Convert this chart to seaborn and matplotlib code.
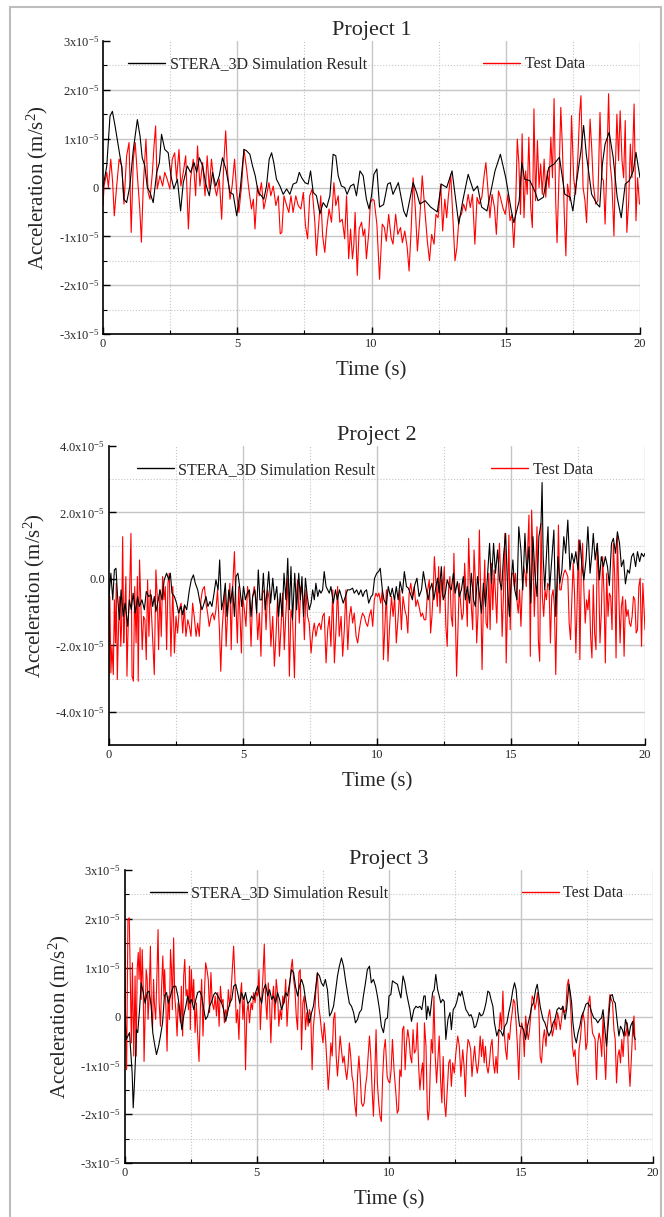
import numpy as np
import pandas as pd
import seaborn as sns
import matplotlib.pyplot as plt
from matplotlib.lines import Line2D
from matplotlib.patches import Rectangle

# (time s, acceleration in 1e-5 m/s^2)
P1_SIM = [(0.0,0.0),(0.14,0.44),(0.26,1.46),(0.35,1.56),(0.45,1.26),(0.57,0.85),(0.7,0.41),(0.78,-0.24),(0.88,-0.31),(1.0,0.03),(1.13,0.78),(1.28,1.39),(1.38,1.05),(1.46,0.61),(1.56,0.44),(1.65,0.0),(1.75,-0.1),(1.87,-0.31),(2.0,0.31),(2.1,0.51),(2.18,1.09),(2.3,0.78),(2.43,0.71),(2.53,0.24),(2.64,-0.03),(2.77,0.17),(2.89,-0.48),(2.99,0.1),(3.14,0.44),(3.26,0.31),(3.39,0.51),(3.49,0.31),(3.59,0.61),(3.71,0.44),(3.83,0.07),(3.96,-0.17),(4.08,0.31),(4.2,0.03),(4.33,0.24),(4.45,0.61),(4.58,0.37),(4.73,-0.1),(4.85,-0.14),(4.98,-0.58),(5.1,-0.1),(5.25,0.78),(5.35,0.75),(5.47,0.68),(5.57,0.44),(5.67,0.24),(5.78,-0.1),(5.9,-0.17),(5.99,-0.24),(6.09,0.03),(6.19,0.58),(6.28,0.71),(6.36,0.51),(6.46,0.17),(6.59,0.03),(6.71,-0.14),(6.84,-0.03),(6.96,-0.14),(7.08,0.07),(7.21,0.1),(7.31,0.31),(7.4,0.2),(7.52,0.1),(7.64,0.07),(7.73,0.34),(7.83,-0.1),(7.95,-0.17),(8.08,-0.54),(8.2,-0.31),(8.33,-0.41),(8.45,-0.17),(8.57,0.68),(8.67,0.65),(8.76,0.24),(8.88,0.03),(9.0,0.0),(9.09,-0.14),(9.22,0.03),(9.34,0.07),(9.44,-0.17),(9.57,0.34),(9.69,0.24),(9.81,-0.24),(9.91,-0.44),(10.0,-0.17),(10.09,0.27),(10.2,0.38),(10.3,-0.4),(10.45,-0.35),(10.6,0.07),(10.7,0.1),(10.8,-0.14),(11.0,0.1),(11.2,-0.48),(11.3,-0.6),(11.55,0.1),(11.68,-0.1),(11.8,-0.34),(12.0,-0.27),(12.2,-0.4),(12.45,-0.5),(12.6,0.07),(12.8,0.0),(13.0,0.34),(13.25,-0.75),(13.4,-0.27),(13.6,0.27),(13.8,-0.07),(13.95,0.03),(14.1,-0.4),(14.3,-0.48),(14.6,0.34),(14.8,0.68),(15.0,0.2),(15.2,-0.45),(15.3,-0.72),(15.5,-0.27),(15.6,0.51),(15.7,0.17),(15.9,0.14),(16.1,-0.1),(16.2,-0.27),(16.4,-0.2),(16.6,0.41),(16.8,0.48),(17.0,0.62),(17.2,-0.14),(17.4,-0.2),(17.5,-0.48),(17.6,-0.03),(17.8,0.75),(17.9,1.27),(18.0,0.68),(18.2,-0.14),(18.4,-0.34),(18.5,-0.4),(18.6,0.48),(18.7,0.89),(18.85,1.13),(19.0,0.62),(19.15,-0.2),(19.3,-0.62),(19.45,0.07),(19.6,0.14),(19.75,0.34),(19.85,0.72),(20.0,0.2)]

P1_TEST = [(0.0,-0.37),(0.04,0.03),(0.14,0.31),(0.2,0.0),(0.29,0.58),(0.36,0.1),(0.42,-0.58),(0.5,-0.03),(0.6,0.58),(0.7,0.44),(0.78,-0.34),(0.88,0.65),(0.97,0.92),(1.05,-0.92),(1.13,0.58),(1.2,0.92),(1.29,0.17),(1.37,-0.44),(1.43,-1.12),(1.5,0.03),(1.6,0.99),(1.68,-0.1),(1.75,-0.24),(1.84,0.31),(1.9,0.85),(1.96,1.26),(2.02,-0.03),(2.12,0.24),(2.22,0.03),(2.3,0.31),(2.39,0.17),(2.49,-0.03),(2.58,0.58),(2.67,0.71),(2.74,0.17),(2.83,0.78),(2.9,0.03),(2.99,0.31),(3.08,0.65),(3.18,-0.85),(3.26,0.17),(3.36,0.58),(3.45,-0.17),(3.52,0.85),(3.61,0.03),(3.71,0.51),(3.8,-0.17),(3.88,0.65),(3.96,-0.03),(4.04,0.58),(4.13,0.1),(4.23,-0.17),(4.33,0.17),(4.42,-0.65),(4.5,0.51),(4.57,1.16),(4.64,0.31),(4.73,-0.24),(4.81,0.03),(4.9,0.58),(4.98,-0.1),(5.06,-0.51),(5.16,0.03),(5.25,0.78),(5.35,0.37),(5.43,-0.03),(5.53,-0.44),(5.6,-0.24),(5.66,-0.85),(5.75,0.03),(5.82,-0.17),(5.9,0.1),(5.99,-0.44),(6.09,-0.17),(6.18,0.1),(6.25,-0.17),(6.34,0.03),(6.44,-0.37),(6.53,-0.17),(6.6,-0.95),(6.66,-0.92),(6.74,-0.17),(6.84,-0.37),(6.92,-0.51),(7.0,-0.17),(7.08,-0.51),(7.18,-0.17),(7.27,-0.37),(7.37,-0.44),(7.46,-0.1),(7.54,-0.78),(7.62,-1.05),(7.7,-0.17),(7.79,-0.03),(7.89,-0.71),(7.95,-1.39),(8.04,-0.71),(8.11,-0.17),(8.18,-0.99),(8.26,-1.33),(8.33,-0.85),(8.42,-0.44),(8.51,-0.71),(8.6,0.1),(8.67,-0.37),(8.76,-0.17),(8.82,-0.71),(8.91,-0.65),(9.0,-1.05),(9.07,-0.17),(9.15,-1.46),(9.22,-0.85),(9.29,-1.46),(9.34,-1.19),(9.39,-0.51),(9.47,-1.8),(9.54,-0.85),(9.63,-0.71),(9.69,-0.99),(9.75,-0.85),(9.81,-1.46),(9.9,-0.92),(9.96,-0.31),(10.04,-0.24),(10.1,-0.27),(10.2,-0.75),(10.3,-1.88),(10.4,-0.75),(10.48,-0.82),(10.55,-1.1),(10.64,-0.55),(10.73,-1.03),(10.8,-1.16),(10.9,-0.55),(10.98,-0.96),(11.08,-0.82),(11.15,-1.13),(11.24,-0.89),(11.33,-1.23),(11.4,-1.71),(11.48,-0.82),(11.55,0.2),(11.63,-0.41),(11.71,-1.3),(11.8,-0.62),(11.89,0.24),(11.98,-0.41),(12.08,-1.1),(12.16,-1.5),(12.24,-0.96),(12.33,-1.16),(12.4,-0.55),(12.48,-0.62),(12.58,0.07),(12.65,-0.89),(12.73,-0.24),(12.8,-0.62),(12.86,-0.2),(12.95,0.27),(13.04,-0.75),(13.11,-1.5),(13.18,-1.23),(13.26,-0.62),(13.35,-0.55),(13.43,-0.34),(13.51,-0.48),(13.6,-0.14),(13.68,-0.41),(13.76,-0.14),(13.85,-1.16),(13.93,-0.2),(14.01,-0.34),(14.11,-0.2),(14.2,0.27),(14.26,0.51),(14.33,0.0),(14.41,-0.62),(14.49,-0.14),(14.58,-0.41),(14.65,-0.96),(14.73,-0.07),(14.8,-0.2),(14.89,-0.41),(14.98,-0.55),(15.08,-0.14),(15.16,-0.68),(15.23,-0.55),(15.3,-1.23),(15.36,-0.55),(15.43,0.99),(15.49,0.48),(15.55,-0.55),(15.61,1.1),(15.68,-0.62),(15.74,0.34),(15.8,-0.14),(15.86,1.03),(15.93,-0.41),(15.99,-0.82),(16.05,1.61),(16.11,-0.27),(16.18,0.96),(16.24,0.0),(16.3,0.48),(16.36,-0.14),(16.43,0.58),(16.49,-0.2),(16.55,0.34),(16.61,0.0),(16.68,1.03),(16.74,0.2),(16.8,1.82),(16.86,-0.27),(16.91,-1.13),(16.99,0.34),(17.05,1.64),(17.11,0.82),(17.18,-0.55),(17.24,-1.4),(17.3,0.07),(17.39,-0.27),(17.45,1.47),(17.53,0.2),(17.6,-0.14),(17.68,0.55),(17.75,1.5),(17.8,1.88),(17.88,0.0),(17.95,-0.27),(18.01,-0.72),(18.08,0.41),(18.14,1.4),(18.2,0.82),(18.26,0.07),(18.35,-0.34),(18.43,-0.27),(18.51,1.54),(18.58,0.2),(18.64,0.14),(18.7,-0.75),(18.76,0.34),(18.83,1.92),(18.89,0.48),(18.95,0.14),(19.03,-0.99),(19.08,0.34),(19.14,1.5),(19.2,0.55),(19.26,1.57),(19.33,0.55),(19.39,0.2),(19.45,1.37),(19.51,-0.92),(19.58,-0.27),(19.64,0.89),(19.7,0.2),(19.78,1.71),(19.85,-0.68),(19.91,0.2),(19.98,-0.34)]

P2_SIM = [(0.0,-0.53),(0.07,0.17),(0.14,-0.63),(0.2,0.27),(0.26,0.32),(0.32,-0.53),(0.39,-1.23),(0.45,-0.33),(0.53,-1.13),(0.6,-0.73),(0.7,-1.43),(0.76,-0.63),(0.83,-0.93),(0.9,-0.43),(0.98,-1.03),(1.07,-0.53),(1.13,-0.83),(1.23,-0.63),(1.32,-0.93),(1.39,-0.38),(1.48,-0.53),(1.57,-0.48),(1.63,-0.83),(1.69,-0.53),(1.75,-0.98),(1.84,-0.63),(1.9,-0.33),(1.98,-0.63),(2.06,-0.03),(2.15,0.17),(2.23,-0.03),(2.29,0.17),(2.35,-0.43),(2.44,-0.53),(2.52,-0.73),(2.6,-1.03),(2.69,-0.83),(2.75,-1.08),(2.82,-0.78),(2.9,-0.93),(3.0,-0.33),(3.07,-0.03),(3.15,0.12),(3.22,-0.13),(3.31,-0.33),(3.4,-0.73),(3.47,-0.93),(3.53,-0.78),(3.62,-0.53),(3.69,-0.83),(3.77,-0.68),(3.84,-0.83),(3.92,-0.43),(3.99,-0.03),(4.07,-0.33),(4.13,0.57),(4.2,-0.93),(4.27,-0.63),(4.34,-0.13),(4.4,-1.13),(4.47,-0.33),(4.54,-0.73),(4.61,-0.23),(4.68,-1.13),(4.74,0.07),(4.81,0.17),(4.89,-0.33),(4.95,-0.83),(5.02,-0.23),(5.09,-0.63),(5.16,-0.43),(5.24,-0.33),(5.3,-1.13),(5.36,-0.53),(5.44,-0.33),(5.51,-1.03),(5.57,0.27),(5.63,-0.63),(5.7,-0.63),(5.76,0.17),(5.83,-0.93),(5.9,-0.33),(5.96,0.22),(6.03,-0.73),(6.11,0.02),(6.18,-0.63),(6.26,-0.23),(6.33,-1.13),(6.39,-0.43),(6.46,-1.13),(6.53,0.17),(6.6,-0.63),(6.67,0.62),(6.73,-0.93),(6.79,0.37),(6.85,-1.23),(6.93,0.17),(7.0,-0.93),(7.08,0.17),(7.14,-0.63),(7.2,0.07),(7.26,-1.13),(7.33,0.02),(7.4,-0.53),(7.47,-0.93),(7.54,-0.73),(7.6,-0.33),(7.66,-0.63),(7.72,-0.13),(7.79,-0.53),(7.85,-0.33),(7.91,-0.43),(7.97,-0.33),(8.03,0.22),(8.1,-0.23),(8.16,-0.33),(8.22,-0.43),(8.28,-0.23),(8.37,-0.73),(8.45,-0.33),(8.52,-0.63),(8.6,-0.33),(8.67,-0.53),(8.74,-0.73),(8.82,-0.53),(8.9,-0.33),(8.99,-0.33),(9.09,-0.28),(9.15,-0.43),(9.24,-0.33),(9.32,-0.48),(9.4,-0.33),(9.47,-0.53),(9.54,-0.38),(9.61,-0.33),(9.69,-0.73),(9.78,-0.53),(9.84,-0.48),(9.91,0.02),(9.99,0.17),(10.06,0.22),(10.12,0.32),(10.2,-0.33),(10.26,-0.63),(10.35,-0.78),(10.42,-0.23),(10.5,-0.53),(10.57,-0.28),(10.65,-0.63),(10.72,-0.23),(10.79,-0.63),(10.86,-0.08),(10.95,-0.43),(11.02,0.22),(11.1,-0.23),(11.17,-0.28),(11.24,-0.43),(11.32,-0.63),(11.41,-0.18),(11.49,0.02),(11.57,-0.53),(11.66,-0.33),(11.73,0.22),(11.82,-0.23),(11.91,-0.63),(11.97,-0.33),(12.05,-0.13),(12.12,-0.63),(12.2,-0.23),(12.26,0.02),(12.32,-0.43),(12.4,0.37),(12.47,-0.63),(12.55,-0.43),(12.62,-0.03),(12.7,-0.23),(12.77,-0.33),(12.85,0.17),(12.92,-0.43),(13.0,-0.08),(13.07,-0.53),(13.15,-0.33),(13.22,0.07),(13.3,-0.63),(13.37,-0.23),(13.45,-0.73),(13.52,0.17),(13.6,-0.63),(13.67,-0.83),(13.75,0.07),(13.82,-0.43),(13.9,-1.03),(13.97,-0.13),(14.05,-0.83),(14.12,0.07),(14.2,1.07),(14.27,-0.13),(14.35,1.07),(14.42,0.17),(14.5,0.87),(14.57,-0.03),(14.65,-0.33),(14.72,0.67),(14.8,1.37),(14.87,-0.23),(14.94,-1.13),(15.01,-0.03),(15.07,0.57),(15.14,-0.33),(15.22,-0.63),(15.29,1.57),(15.37,0.87),(15.44,-0.33),(15.52,1.37),(15.59,0.17),(15.67,0.97),(15.74,-0.73),(15.82,1.27),(15.89,0.17),(15.97,-0.53),(16.04,1.27),(16.12,1.67),(16.16,2.9),(16.2,0.67),(16.26,-0.33),(16.32,0.67),(16.38,1.57),(16.44,-0.33),(16.52,0.57),(16.6,1.47),(16.67,-1.13),(16.75,0.67),(16.82,-0.13),(16.9,0.27),(16.97,1.27),(17.04,0.77),(17.12,1.77),(17.2,0.27),(17.27,0.77),(17.35,0.47),(17.42,0.82),(17.5,0.27),(17.57,1.17),(17.65,0.37),(17.72,-0.03),(17.8,0.57),(17.87,1.57),(17.95,0.17),(18.02,0.77),(18.07,1.37),(18.14,0.57),(18.22,1.07),(18.3,-0.03),(18.37,0.67),(18.45,0.37),(18.52,0.67),(18.6,0.37),(18.67,-0.2),(18.75,1.07),(18.82,1.22),(18.9,0.77),(18.97,1.42),(19.05,1.07),(19.12,0.37),(19.2,0.57),(19.27,-0.15),(19.35,0.27),(19.42,0.17),(19.5,0.67),(19.57,0.77),(19.65,0.37),(19.72,0.82),(19.8,0.52),(19.87,0.77),(19.95,0.67),(20.0,0.77)]

P2_TEST = [(0.0,-2.93),(0.03,-0.53),(0.07,-2.83),(0.11,-2.03),(0.16,-2.88),(0.2,-0.63),(0.24,-1.93),(0.27,-0.13),(0.31,-3.03),(0.36,-1.33),(0.4,-0.53),(0.44,-2.03),(0.47,-1.43),(0.51,1.27),(0.55,-1.93),(0.58,-1.13),(0.63,0.07),(0.67,-2.93),(0.72,-1.23),(0.77,-0.33),(0.82,1.37),(0.86,-2.93),(0.91,-3.08),(0.96,-0.23),(1.01,-1.93),(1.06,0.07),(1.09,-3.08),(1.14,0.57),(1.19,-0.73),(1.24,-2.13),(1.29,-1.13),(1.34,-1.23),(1.39,-2.43),(1.44,-0.03),(1.49,-1.73),(1.54,-0.33),(1.59,-1.13),(1.64,-2.03),(1.69,-2.88),(1.75,0.27),(1.8,-0.53),(1.85,-2.13),(1.9,-0.33),(1.95,-1.73),(2.0,0.07),(2.05,-0.63),(2.1,-0.23),(2.15,-2.13),(2.2,-0.13),(2.25,0.17),(2.31,-2.33),(2.38,-0.23),(2.44,-2.23),(2.5,-1.13),(2.56,-1.63),(2.62,-0.93),(2.69,-0.73),(2.75,-1.63),(2.81,-0.83),(2.87,-1.73),(2.94,-1.23),(3.0,-1.43),(3.06,-1.73),(3.12,-0.73),(3.18,-1.13),(3.25,-1.73),(3.31,-1.33),(3.37,-1.73),(3.43,-0.63),(3.49,-0.33),(3.56,-0.23),(3.62,-0.73),(3.68,-1.03),(3.74,-1.43),(3.81,-1.13),(3.87,-1.03),(3.93,-1.23),(3.99,-0.93),(4.05,-0.33),(4.12,-1.53),(4.17,-2.78),(4.22,-1.53),(4.27,-0.93),(4.32,-0.33),(4.37,-2.03),(4.42,-1.13),(4.47,-0.63),(4.51,-0.13),(4.56,-2.13),(4.61,-0.33),(4.68,0.82),(4.74,-0.83),(4.79,-1.93),(4.84,-0.23),(4.89,-1.13),(4.94,-2.23),(4.99,-0.53),(5.05,-0.93),(5.11,-1.43),(5.17,-0.23),(5.24,-0.63),(5.3,-2.03),(5.36,-0.53),(5.42,-0.23),(5.49,-0.63),(5.55,-1.83),(5.61,-1.03),(5.67,-2.33),(5.73,-0.43),(5.8,-0.33),(5.86,-1.53),(5.92,-0.33),(5.98,-0.63),(6.04,-2.03),(6.11,-1.13),(6.17,-2.63),(6.23,-1.73),(6.29,-0.53),(6.36,-2.33),(6.42,-1.43),(6.48,-0.43),(6.54,-2.13),(6.6,-1.03),(6.67,0.02),(6.73,-2.93),(6.79,-0.93),(6.85,-1.23),(6.92,-2.98),(6.98,-0.63),(7.04,-0.03),(7.1,-1.33),(7.16,-0.23),(7.23,-0.53),(7.29,-1.83),(7.35,-0.33),(7.41,-1.13),(7.47,-1.33),(7.54,-2.23),(7.6,-1.63),(7.66,-1.33),(7.72,-1.73),(7.79,-1.43),(7.85,-1.33),(7.91,-1.53),(7.97,-1.13),(8.03,-1.03),(8.1,-2.53),(8.16,-1.53),(8.22,-1.13),(8.28,-2.03),(8.35,-0.33),(8.41,-2.53),(8.47,-1.53),(8.53,-0.23),(8.59,-1.73),(8.66,-1.13),(8.72,-2.33),(8.78,-1.53),(8.84,-0.33),(8.91,-2.13),(8.97,-1.13),(9.03,-0.83),(9.09,-1.33),(9.15,-1.03),(9.22,-1.73),(9.28,-1.93),(9.34,-1.53),(9.4,-1.23),(9.46,-1.03),(9.53,-1.13),(9.59,-1.33),(9.65,-1.43),(9.71,-1.13),(9.78,-0.93),(9.84,-1.43),(9.9,-0.63),(9.96,-0.43),(10.02,-0.53),(10.07,-0.43),(10.14,-0.73),(10.2,-0.33),(10.24,-2.43),(10.29,-1.53),(10.35,-0.33),(10.41,-2.48),(10.47,-1.43),(10.54,-0.53),(10.6,-1.13),(10.66,-0.53),(10.72,-1.93),(10.79,-1.13),(10.85,-0.33),(10.91,-1.53),(10.97,-0.53),(11.04,-0.93),(11.1,-1.13),(11.15,-1.63),(11.2,-0.43),(11.26,-0.13),(11.32,-0.53),(11.39,-0.23),(11.45,-0.83),(11.51,-0.63),(11.57,-0.83),(11.64,-1.13),(11.7,-1.03),(11.76,-1.23),(11.82,-1.23),(11.89,-0.33),(11.95,-0.03),(12.0,-1.63),(12.05,-1.13),(12.1,-0.33),(12.14,0.67),(12.2,-0.13),(12.25,-0.83),(12.3,0.37),(12.35,-1.03),(12.4,-0.03),(12.45,-0.53),(12.51,0.37),(12.57,-1.43),(12.62,-2.03),(12.67,-0.33),(12.72,0.07),(12.77,-1.13),(12.82,-1.43),(12.87,0.77),(12.92,-0.93),(12.97,-2.93),(13.02,-1.53),(13.07,-0.13),(13.12,-0.73),(13.17,-1.23),(13.22,-1.03),(13.27,0.47),(13.32,-0.43),(13.37,-1.43),(13.42,1.22),(13.47,-0.03),(13.52,-0.83),(13.57,-1.53),(13.62,0.87),(13.67,-0.03),(13.72,-1.93),(13.77,-1.03),(13.82,1.47),(13.87,-0.43),(13.92,-2.73),(13.97,-0.73),(14.02,0.57),(14.07,-1.33),(14.12,-1.48),(14.17,0.17),(14.22,-1.53),(14.27,0.47),(14.32,-0.93),(14.37,0.27),(14.42,-0.43),(14.47,-1.33),(14.52,0.17),(14.57,1.07),(14.62,-0.03),(14.67,-1.73),(14.72,-0.43),(14.77,1.37),(14.82,-2.53),(14.87,-0.83),(14.92,1.32),(14.97,-1.53),(15.02,0.17),(15.07,0.17),(15.12,-0.23),(15.17,0.17),(15.22,-0.63),(15.27,-1.03),(15.32,-0.33),(15.37,-1.43),(15.42,-0.33),(15.47,0.37),(15.52,0.17),(15.57,-0.23),(15.62,0.87),(15.67,1.92),(15.72,-2.33),(15.77,2.07),(15.82,0.67),(15.87,-1.13),(15.92,0.27),(15.97,1.57),(16.02,-1.83),(16.07,-2.48),(16.12,1.67),(16.17,-0.53),(16.22,-1.13),(16.27,-0.33),(16.32,-0.63),(16.37,-0.13),(16.42,-0.23),(16.47,-1.93),(16.52,-0.53),(16.57,-0.33),(16.62,-0.83),(16.67,-2.88),(16.72,-0.63),(16.77,1.62),(16.82,-0.33),(16.87,-0.33),(16.92,-0.03),(16.97,0.17),(17.02,0.27),(17.07,0.17),(17.12,0.07),(17.17,-1.33),(17.22,-1.83),(17.27,-0.63),(17.32,0.47),(17.37,-0.43),(17.42,-2.23),(17.47,-0.63),(17.52,1.17),(17.57,-2.43),(17.62,0.17),(17.67,1.07),(17.72,-0.33),(17.77,-1.33),(17.82,-0.63),(17.87,-0.93),(17.92,-0.33),(17.97,-1.73),(18.02,-2.38),(18.07,-0.18),(18.12,-1.63),(18.17,-2.13),(18.22,1.07),(18.27,0.07),(18.32,-1.93),(18.37,-1.03),(18.42,0.67),(18.47,-0.43),(18.52,-2.53),(18.57,0.17),(18.62,-1.13),(18.67,-0.43),(18.72,-0.53),(18.77,-1.53),(18.82,1.07),(18.87,0.07),(18.92,-2.38),(18.97,1.27),(19.02,-0.33),(19.07,-1.93),(19.12,-0.83),(19.17,-0.53),(19.22,-2.33),(19.27,-0.63),(19.32,-1.13),(19.37,-0.93),(19.42,-1.33),(19.47,-1.43),(19.52,-1.13),(19.57,-0.53),(19.62,-0.63),(19.67,-1.63),(19.72,-1.53),(19.77,-0.23),(19.82,0.02),(19.87,-2.03),(19.92,-0.13),(19.97,-1.03),(20.0,-1.53)]

P3_SIM = [(0.0,0.14),(0.06,-0.47),(0.13,-0.4),(0.19,-0.33),(0.25,-0.81),(0.29,-1.16),(0.33,-1.87),(0.37,-1.43),(0.42,-0.81),(0.45,-0.27),(0.5,-0.33),(0.57,0.14),(0.63,0.69),(0.71,0.49),(0.78,0.27),(0.86,0.49),(0.93,0.52),(1.01,0.21),(1.07,-0.33),(1.13,-0.54),(1.21,-0.78),(1.29,-0.61),(1.36,-0.4),(1.44,-0.13),(1.51,0.42),(1.59,0.49),(1.66,0.27),(1.74,0.42),(1.8,0.55),(1.86,0.62),(1.94,0.62),(2.02,0.42),(2.09,0.14),(2.17,-0.27),(2.24,0.01),(2.32,0.21),(2.39,0.42),(2.47,0.27),(2.54,0.35),(2.62,0.14),(2.7,0.35),(2.77,0.49),(2.85,0.52),(2.92,0.42),(3.0,0.14),(3.07,-0.06),(3.15,0.01),(3.22,0.21),(3.3,0.31),(3.38,0.45),(3.45,0.49),(3.53,0.42),(3.6,0.35),(3.68,0.27),(3.75,0.14),(3.83,-0.1),(3.9,0.08),(3.98,0.27),(4.06,0.35),(4.13,0.62),(4.21,0.66),(4.28,0.49),(4.36,0.27),(4.43,0.49),(4.51,0.35),(4.58,0.49),(4.66,0.27),(4.74,0.31),(4.81,0.42),(4.89,0.35),(4.96,0.49),(5.04,0.62),(5.11,0.42),(5.19,0.27),(5.26,0.55),(5.34,0.66),(5.42,0.42),(5.49,0.55),(5.57,0.35),(5.64,0.42),(5.72,0.27),(5.79,0.49),(5.87,0.35),(5.94,0.14),(6.02,0.27),(6.1,0.49),(6.17,0.42),(6.25,0.69),(6.32,0.96),(6.4,0.9),(6.47,0.62),(6.55,0.42),(6.62,0.62),(6.7,0.76),(6.78,0.62),(6.85,0.35),(6.93,0.08),(7.0,-0.13),(7.08,0.08),(7.15,0.21),(7.23,0.55),(7.3,0.89),(7.38,0.83),(7.45,0.69),(7.53,0.62),(7.6,0.76),(7.68,0.55),(7.76,0.01),(7.83,0.08),(7.91,0.21),(7.98,0.49),(8.06,0.83),(8.13,1.03),(8.21,1.2),(8.29,1.03),(8.36,0.76),(8.44,0.49),(8.51,0.27),(8.59,0.21),(8.67,0.08),(8.74,-0.13),(8.82,-0.06),(8.89,0.08),(8.97,0.14),(9.04,0.42),(9.12,0.69),(9.19,0.96),(9.27,1.03),(9.34,0.69),(9.42,0.76),(9.5,0.62),(9.57,0.42),(9.65,0.14),(9.72,-0.2),(9.8,-0.33),(9.87,-0.06),(9.95,-0.03),(10.01,0.42),(10.08,0.45),(10.14,0.73),(10.24,0.69),(10.33,0.66),(10.39,0.52),(10.46,0.38),(10.54,0.83),(10.61,0.69),(10.67,0.49),(10.72,0.35),(10.8,0.14),(10.86,-0.1),(10.95,0.14),(11.03,0.21),(11.1,0.18),(11.18,0.21),(11.25,0.14),(11.33,0.42),(11.38,0.42),(11.43,-0.06),(11.48,0.21),(11.56,0.01),(11.66,0.49),(11.72,0.55),(11.78,0.86),(11.85,0.55),(11.91,0.42),(11.97,0.28),(12.04,0.35),(12.1,0.31),(12.16,-0.47),(12.24,-0.06),(12.32,0.08),(12.37,-0.27),(12.44,0.14),(12.52,0.21),(12.58,0.31),(12.65,0.49),(12.71,0.42),(12.77,0.52),(12.85,0.31),(12.92,0.14),(12.99,0.08),(13.05,0.01),(13.11,0.04),(13.18,-0.06),(13.24,-0.23),(13.3,-0.2),(13.37,-0.06),(13.43,0.08),(13.49,0.01),(13.56,0.04),(13.62,0.14),(13.68,0.28),(13.75,0.52),(13.81,0.49),(13.87,0.35),(13.94,0.21),(14.0,-0.13),(14.09,-0.4),(14.16,-0.27),(14.24,-0.3),(14.32,-0.4),(14.39,-0.2),(14.47,-0.13),(14.54,0.08),(14.62,0.28),(14.7,0.55),(14.76,0.69),(14.82,0.55),(14.89,0.08),(14.95,-0.2),(15.03,-0.2),(15.1,-0.27),(15.18,-0.47),(15.25,-0.2),(15.34,0.01),(15.41,0.21),(15.48,0.28),(15.56,0.55),(15.62,0.66),(15.68,0.42),(15.73,0.21),(15.78,0.08),(15.84,-0.06),(15.91,-0.13),(15.99,-0.27),(16.06,-0.4),(16.14,-0.3),(16.22,-0.13),(16.29,-0.06),(16.37,0.14),(16.44,0.18),(16.52,0.14),(16.59,0.21),(16.67,-0.06),(16.73,0.14),(16.82,0.66),(16.87,0.49),(16.92,0.28),(16.97,-0.13),(17.03,-0.4),(17.1,-0.54),(17.16,-0.34),(17.23,-0.2),(17.3,0.01),(17.38,0.11),(17.46,0.25),(17.53,0.28),(17.61,0.21),(17.68,0.08),(17.76,-0.03),(17.84,-0.06),(17.91,-0.13),(17.99,-0.06),(18.05,-0.03),(18.11,0.14),(18.18,-0.27),(18.24,-0.61),(18.32,-0.06),(18.39,0.42),(18.46,0.45),(18.52,0.31),(18.57,0.28),(18.65,-0.13),(18.71,-0.4),(18.77,-0.2),(18.84,-0.27),(18.9,-0.4),(18.96,-0.06),(19.03,-0.2),(19.09,-0.4),(19.15,-0.2),(19.23,-0.1),(19.28,-0.4),(19.33,-0.47)]

P3_TEST = [(0.0,1.82),(0.04,0.01),(0.08,-1.09),(0.13,1.99),(0.18,2.02),(0.23,0.42),(0.26,-0.54),(0.3,1.1),(0.35,-0.81),(0.4,0.83),(0.44,-0.81),(0.48,0.96),(0.52,1.31),(0.55,0.76),(0.59,1.41),(0.63,0.35),(0.67,1.37),(0.71,0.55),(0.74,-0.92),(0.78,0.01),(0.82,0.96),(0.86,0.76),(0.89,-0.06),(0.93,0.35),(0.98,1.44),(1.02,0.14),(1.06,-0.27),(1.1,0.76),(1.13,0.28),(1.18,-0.06),(1.23,0.9),(1.27,1.78),(1.31,0.28),(1.36,-0.2),(1.4,0.55),(1.45,1.24),(1.49,0.42),(1.52,0.96),(1.57,0.14),(1.61,-0.71),(1.65,0.42),(1.7,-0.06),(1.74,1.37),(1.78,0.96),(1.81,0.14),(1.86,1.61),(1.9,0.42),(1.94,0.14),(1.99,-0.4),(2.03,0.28),(2.07,0.08),(2.12,-0.13),(2.15,0.62),(2.2,-0.4),(2.24,0.83),(2.28,1.17),(2.33,0.42),(2.37,0.55),(2.42,0.14),(2.46,1.03),(2.49,-0.27),(2.53,0.96),(2.58,0.28),(2.62,0.76),(2.67,-0.33),(2.72,0.28),(2.77,-0.4),(2.82,-0.92),(2.87,0.14),(2.92,0.76),(2.97,-0.4),(3.02,0.42),(3.07,1.1),(3.12,0.96),(3.17,0.76),(3.22,0.08),(3.27,0.9),(3.32,0.28),(3.38,0.14),(3.43,0.42),(3.48,0.01),(3.53,0.49),(3.58,-0.2),(3.63,0.62),(3.68,0.28),(3.73,0.35),(3.78,-0.13),(3.83,0.14),(3.88,0.01),(3.93,0.55),(3.98,0.21),(4.03,0.49),(4.08,0.96),(4.13,1.44),(4.18,0.76),(4.23,-0.13),(4.28,0.14),(4.33,-0.47),(4.38,0.42),(4.43,0.69),(4.48,-0.06),(4.53,0.42),(4.58,-1.09),(4.63,0.08),(4.68,0.28),(4.73,-0.13),(4.79,0.28),(4.84,0.14),(4.89,0.49),(4.94,0.28),(4.99,0.49),(5.04,0.42),(5.09,0.96),(5.14,-0.27),(5.19,0.35),(5.24,0.83),(5.29,1.48),(5.34,0.35),(5.39,-0.06),(5.44,0.69),(5.49,0.28),(5.54,-0.54),(5.59,0.35),(5.64,0.62),(5.69,-0.06),(5.74,0.76),(5.79,0.49),(5.84,-0.2),(5.89,0.14),(5.94,-0.06),(5.99,0.42),(6.05,0.28),(6.1,0.76),(6.15,-0.2),(6.2,0.28),(6.25,0.62),(6.3,0.96),(6.35,1.17),(6.4,0.76),(6.45,0.55),(6.5,0.01),(6.55,-0.27),(6.6,0.9),(6.65,0.96),(6.7,-0.68),(6.75,0.28),(6.8,0.42),(6.85,-0.27),(6.9,0.08),(6.95,-0.2),(7.0,0.14),(7.05,0.01),(7.1,-1.09),(7.15,-0.2),(7.2,0.08),(7.25,0.62),(7.3,0.9),(7.35,0.21),(7.4,0.01),(7.45,-0.27),(7.51,-0.54),(7.56,-0.13),(7.61,-0.47),(7.66,-0.95),(7.71,-1.5),(7.76,-1.09),(7.81,-0.54),(7.86,-0.81),(7.91,-0.06),(7.96,0.08),(8.01,-0.81),(8.06,-1.22),(8.11,-0.81),(8.16,-0.4),(8.21,-0.68),(8.26,-0.95),(8.31,-0.81),(8.36,-1.09),(8.41,-1.29),(8.46,-1.02),(8.51,-0.54),(8.56,-0.81),(8.61,-1.22),(8.66,-1.36),(8.71,-1.77),(8.77,-2.04),(8.82,-1.22),(8.87,-0.81),(8.92,-1.22),(8.97,-1.77),(9.02,-1.84),(9.07,-1.77),(9.12,-1.43),(9.17,-1.22),(9.22,-0.81),(9.27,-0.4),(9.32,-0.81),(9.37,-1.5),(9.42,-2.04),(9.47,-1.22),(9.52,-0.27),(9.57,-1.36),(9.62,-1.77),(9.67,-2.04),(9.72,-2.15),(9.77,-1.22),(9.82,-0.68),(9.87,-0.47),(9.94,-1.23),(9.99,-1.33),(10.04,-1.36),(10.09,-1.09),(10.14,-0.47),(10.2,-1.09),(10.27,-1.57),(10.32,-1.98),(10.37,-1.91),(10.42,-1.09),(10.47,-1.23),(10.52,-0.27),(10.57,-0.2),(10.62,-1.09),(10.67,-0.54),(10.72,-0.27),(10.77,-0.47),(10.82,-0.82),(10.87,-0.95),(10.92,-0.27),(10.97,-0.75),(11.03,-0.68),(11.08,-0.13),(11.13,-1.02),(11.18,-1.5),(11.23,-1.16),(11.28,-0.95),(11.32,-1.5),(11.35,-0.13),(11.41,-0.61),(11.46,-1.91),(11.49,-2.12),(11.53,-1.91),(11.57,-1.09),(11.61,-0.47),(11.66,-0.75),(11.71,0.42),(11.76,-0.82),(11.81,-1.36),(11.86,-0.88),(11.91,-0.4),(11.96,-1.29),(12.01,-1.77),(12.06,-0.82),(12.11,-1.77),(12.16,-2.05),(12.22,-1.43),(12.27,-0.95),(12.32,-0.88),(12.37,-1.43),(12.42,-0.95),(12.48,-1.16),(12.54,-0.75),(12.61,-0.4),(12.67,-0.61),(12.73,-1.23),(12.8,-0.68),(12.85,-1.02),(12.9,-1.64),(12.95,-0.82),(13.0,-0.47),(13.05,-0.54),(13.1,-0.68),(13.15,-1.23),(13.2,-0.88),(13.25,-0.61),(13.3,-0.95),(13.35,-1.16),(13.4,-0.95),(13.46,-0.4),(13.51,-0.82),(13.56,-0.47),(13.61,-0.95),(13.66,-0.61),(13.71,-1.02),(13.76,-1.16),(13.81,-0.95),(13.86,-0.61),(13.91,-0.47),(13.96,-0.95),(14.01,-1.16),(14.06,-0.82),(14.11,-1.16),(14.16,-0.4),(14.22,0.08),(14.27,-0.27),(14.32,0.52),(14.37,-0.34),(14.42,-0.68),(14.47,-0.88),(14.52,-0.34),(14.57,-0.47),(14.62,-0.13),(14.67,0.08),(14.72,0.35),(14.77,0.28),(14.82,-0.13),(14.87,-0.61),(14.92,-1.29),(14.97,-0.4),(15.03,-0.13),(15.08,-0.27),(15.13,-0.82),(15.18,0.01),(15.23,-0.27),(15.28,-0.47),(15.33,-0.27),(15.38,0.08),(15.43,0.42),(15.48,0.35),(15.53,0.14),(15.58,0.28),(15.63,0.49),(15.68,0.14),(15.73,-0.82),(15.78,-0.95),(15.84,-0.47),(15.89,-0.27),(15.95,-0.61),(15.99,-0.27),(16.04,0.01),(16.09,0.14),(16.14,-0.13),(16.19,-0.4),(16.24,-0.27),(16.29,-0.06),(16.34,-0.27),(16.39,0.08),(16.44,-0.06),(16.49,-0.27),(16.54,-0.06),(16.59,0.21),(16.65,0.08),(16.7,0.14),(16.75,0.62),(16.8,0.76),(16.85,0.49),(16.9,0.01),(16.95,-0.61),(17.0,-0.82),(17.05,-0.68),(17.1,-1.16),(17.15,-1.4),(17.2,-0.68),(17.25,-0.47),(17.3,-0.13),(17.35,0.08),(17.41,-0.13),(17.46,-0.68),(17.51,-0.54),(17.56,0.28),(17.61,0.42),(17.66,0.01),(17.71,-0.34),(17.76,-0.4),(17.81,-0.47),(17.86,-1.29),(17.91,-0.54),(17.96,-0.34),(18.01,-0.47),(18.06,-0.82),(18.11,0.01),(18.16,-0.75),(18.21,-1.29),(18.27,-0.27),(18.32,0.14),(18.37,0.45),(18.42,0.35),(18.47,0.28),(18.52,-0.27),(18.57,-0.47),(18.62,-1.36),(18.67,-0.82),(18.72,-0.68),(18.77,-0.95),(18.82,-0.47),(18.87,-0.82),(18.92,-0.27),(18.97,-0.4),(19.03,-0.13),(19.08,-0.95),(19.13,-1.43),(19.18,-0.88),(19.23,-0.27),(19.28,0.01),(19.33,-0.68)]

TITLES = ['Project 1', 'Project 2', 'Project 3']
SIM_LABEL = 'STERA_3D Simulation Result'
TEST_LABEL = 'Test Data'
TICKS_3 = [-3, -2, -1, 0, 1, 2, 3]
LABELS_3 = ['-3x10$^{-5}$', '-2x10$^{-5}$', '-1x10$^{-5}$', '0',
            '1x10$^{-5}$', '2x10$^{-5}$', '3x10$^{-5}$']
TICKS_4 = [-4, -2, 0, 2, 4]
LABELS_4 = ['-4.0x10$^{-5}$', '-2.0x10$^{-5}$', '0.0', '2.0x10$^{-5}$', '4.0x10$^{-5}$']

sns.set_theme(style='white')
plt.rcParams['font.family'] = ['Liberation Serif', 'DejaVu Serif']
plt.rcParams['mathtext.default'] = 'regular'

GRID = '#c6c6c6'

panels = [
    dict(sim=P1_SIM, test=P1_TEST, rect=[103/664, 1-334/1217, 537/664, 293/1217],
         ylim=(-3, 3), ticks=TICKS_3, labels=LABELS_3, step=1, leg=(0.047, 0.708, 0.92)),
    dict(sim=P2_SIM, test=P2_TEST, rect=[109/664, 1-745/1217, 536/664, 299/1217],
         ylim=(-5, 4), ticks=TICKS_4, labels=LABELS_4, step=2, leg=(0.052, 0.713, 0.92)),
    dict(sim=P3_SIM, test=P3_TEST, rect=[124.5/664, 1-1163/1217, 528.5/664, 293/1217],
         ylim=(-3, 3), ticks=TICKS_3, labels=LABELS_3, step=1, leg=(0.048, 0.752, 0.921)),
]

fig = plt.figure(figsize=(6.64, 12.17), dpi=100)

for i, p in enumerate(panels):
    ax = fig.add_axes(p['rect'])
    lo, hi = p['ylim']
    sim = pd.DataFrame(p['sim'], columns=['t', 'a'])
    test = pd.DataFrame(p['test'], columns=['t', 'a'])
    sim['a'] = sim['a'] * 1e-5
    test['a'] = test['a'] * 1e-5

    # grid: solid at major ticks, dotted half way between
    for x in np.arange(2.5, 20.01, 2.5):
        solid = x % 5 == 0
        ax.axvline(x, color=GRID, lw=1.0 if solid else 0.8, ls='-' if solid else ':', zorder=0)
    half = p['step'] / 2
    for y in np.arange(lo + half, hi - 0.01, half):
        solid = abs(y / p['step'] - round(y / p['step'])) < 1e-6
        ax.axhline(y * 1e-5, color=GRID, lw=1.0 if solid else 0.8, ls='-' if solid else ':', zorder=0)

    sns.lineplot(data=test, x='t', y='a', ax=ax, color='#ff0000', lw=0.8,
                 estimator=None, sort=False, zorder=2)
    sns.lineplot(data=sim, x='t', y='a', ax=ax, color='black', lw=0.8,
                 estimator=None, sort=False, zorder=3)

    ax.set_xlim(0, 20)
    ax.set_ylim(lo * 1e-5, hi * 1e-5)
    ax.set_xticks([0, 5, 10, 15, 20])
    ax.set_xticklabels(['0', '5', '10', '15', '20'])
    ax.set_xticks(np.arange(2.5, 20, 5), minor=True)
    ax.set_yticks([v * 1e-5 for v in p['ticks']])
    ax.set_yticklabels(p['labels'])
    ax.set_yticks([v * 1e-5 for v in np.arange(lo + half, hi, p['step'])], minor=True)
    ax.tick_params(which='both', direction='in', left=True, bottom=True,
                   labelsize=9, pad=3, color='black')
    ax.tick_params(which='major', length=5, width=1)
    ax.tick_params(which='minor', length=3, width=0.8)

    for side in ['top', 'right']:
        ax.spines[side].set_visible(False)
    for side in ['left', 'bottom']:
        ax.spines[side].set_color('black')
        ax.spines[side].set_linewidth(1.2)

    ax.set_title(TITLES[i], fontsize=16, pad=4)
    ax.set_xlabel('Time (s)', fontsize=15, labelpad=8)
    ax.set_ylabel('Acceleration (m/s$^{2}$)', fontsize=15, labelpad=6)

    x1, x2, yl = p['leg']
    kw = dict(frameon=False, loc='center left', borderpad=0, borderaxespad=0,
              handlelength=2.3, handletextpad=0.3, fontsize=11.5)
    leg1 = ax.legend([Line2D([], [], color='black', lw=1)], [SIM_LABEL],
                     bbox_to_anchor=(x1, yl), **kw)
    ax.add_artist(leg1)
    ax.legend([Line2D([], [], color='#ff0000', lw=1)], [TEST_LABEL],
              bbox_to_anchor=(x2, yl), **kw)

# light grey frame round the whole figure
fig.patches.append(Rectangle((10/664, -0.01), 651/664, 1.01 - 7/1217, transform=fig.transFigure,
                             fill=False, edgecolor='#bdbdbd', lw=1.5))

fig.savefig('out.png', dpi=100)
